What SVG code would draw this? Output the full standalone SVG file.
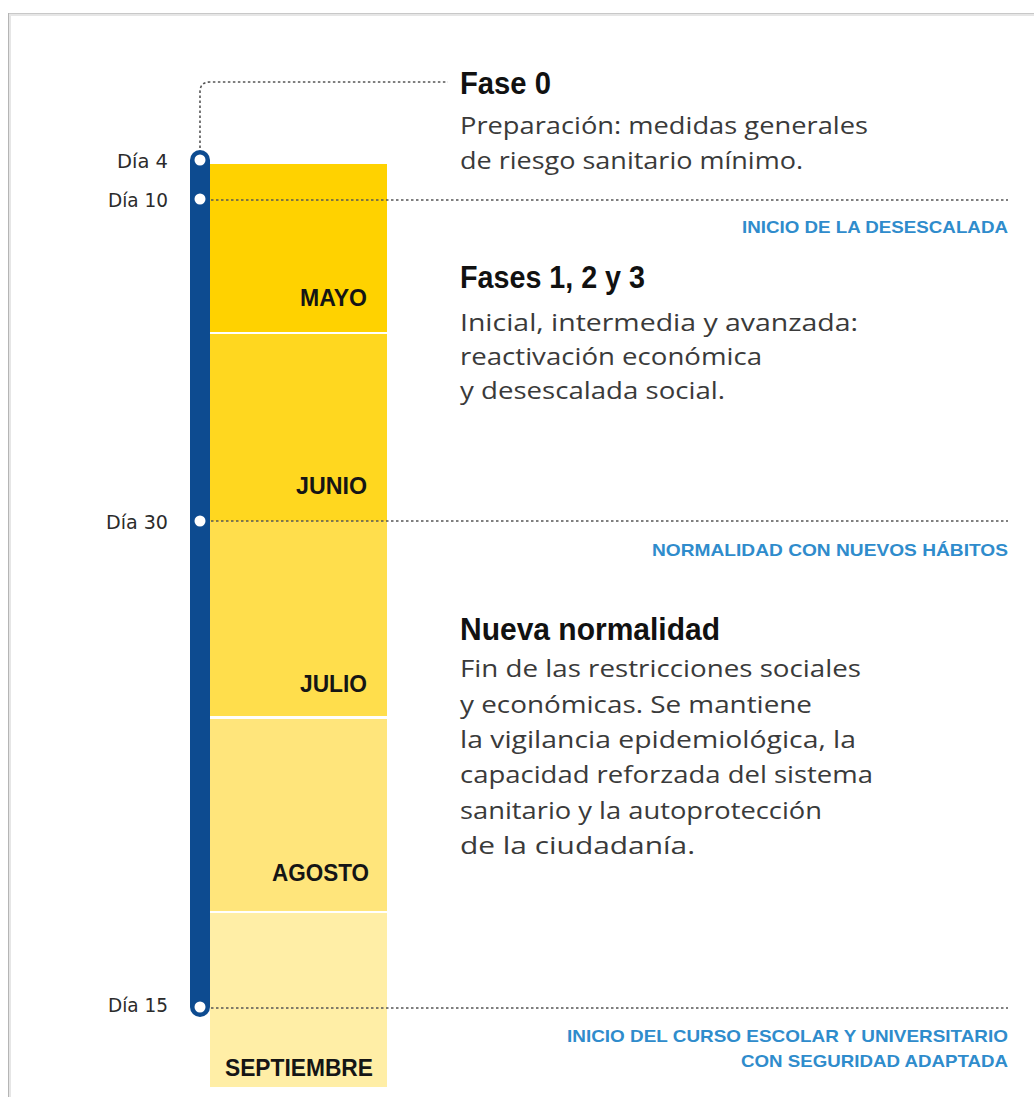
<svg xmlns="http://www.w3.org/2000/svg" width="1034" height="1097" viewBox="0 0 1034 1097">
<defs>
<style>
.day{font-family:"DejaVu Sans Condensed","DejaVu Sans",sans-serif;font-size:19px;fill:#2b2b2b;text-anchor:end}
.month{font-family:"Liberation Sans",Arial,sans-serif;font-weight:bold;font-size:24px;fill:#151515;text-anchor:end}
.head{font-family:"Liberation Sans",Arial,sans-serif;font-weight:bold;font-size:32px;fill:#111}
.body{font-family:"Open Sans","Liberation Sans",sans-serif;font-size:24px;fill:#3a3a3a}
.tag{font-family:"Liberation Sans",Arial,sans-serif;font-weight:bold;font-size:17px;fill:#2f8ccc;text-anchor:end}
.dot{fill:none;stroke:#555;stroke-width:1.6;stroke-dasharray:2.5 2.5}
.pt{fill:#fff}
</style>
</defs>
<rect width="1034" height="1097" fill="#fff"/>
<g id="frame">
<line x1="8" y1="14.5" x2="1034" y2="14.5" stroke="#e6e6e6" stroke-width="3"/>
<line x1="9.5" y1="13" x2="9.5" y2="1097" stroke="#e6e6e6" stroke-width="3"/>
<line x1="8" y1="13.5" x2="1034" y2="13.5" stroke="#c8c8c8" stroke-width="1"/>
<line x1="8.5" y1="13" x2="8.5" y2="1097" stroke="#b5b5b5" stroke-width="1"/>
</g>
<g id="mayo"><rect x="210" y="164" width="177" height="168" fill="#FFD200"/><text class="month" x="367" y="306" textLength="67" lengthAdjust="spacingAndGlyphs">MAYO</text></g>
<g id="junio"><rect x="210" y="334" width="177" height="187" fill="#FFD71F"/><text class="month" x="367" y="494" textLength="71" lengthAdjust="spacingAndGlyphs">JUNIO</text></g>
<g id="julio"><rect x="210" y="521" width="177" height="195" fill="#FFDE4C"/><text class="month" x="367" y="692" textLength="67" lengthAdjust="spacingAndGlyphs">JULIO</text></g>
<g id="agosto"><rect x="210" y="719" width="177" height="192" fill="#FFE57B"/><text class="month" x="369" y="881" textLength="97" lengthAdjust="spacingAndGlyphs">AGOSTO</text></g>
<g id="septiembre"><rect x="210" y="913" width="177" height="174" fill="#FFEEA6"/><text class="month" x="373" y="1076" textLength="148" lengthAdjust="spacingAndGlyphs">SEPTIEMBRE</text></g>
<g id="connectors">
<path class="dot" d="M200 148 V92 Q200 82 210 82 H448"/>
<line class="dot" x1="206" y1="200" x2="1008" y2="200"/>
<line class="dot" x1="206" y1="521" x2="1008" y2="521"/>
<line class="dot" x1="206" y1="1008" x2="1008" y2="1008"/>
</g>
<g id="timeline">
<rect x="190" y="150" width="20" height="867" rx="10" fill="#0D4B90"/>
<circle class="pt" cx="200" cy="160" r="5.5"/>
<circle class="pt" cx="200" cy="199" r="5.5"/>
<circle class="pt" cx="200" cy="521" r="5.5"/>
<circle class="pt" cx="200" cy="1007" r="5.5"/>
</g>
<g id="day-labels">
<text class="day" x="168" y="168" textLength="51" lengthAdjust="spacingAndGlyphs">Día 4</text>
<text class="day" x="168" y="207" textLength="60" lengthAdjust="spacingAndGlyphs">Día 10</text>
<text class="day" x="168" y="529" textLength="62" lengthAdjust="spacingAndGlyphs">Día 30</text>
<text class="day" x="168" y="1012" textLength="60" lengthAdjust="spacingAndGlyphs">Día 15</text>
</g>
<g id="fase0">
<text class="head" x="460" y="94" textLength="91" lengthAdjust="spacingAndGlyphs">Fase 0</text>
<text class="body" x="460" y="134" textLength="408" lengthAdjust="spacingAndGlyphs">Preparación: medidas generales</text>
<text class="body" x="460" y="169" textLength="343" lengthAdjust="spacingAndGlyphs">de riesgo sanitario mínimo.</text>
</g>
<g id="tag-desescalada"><text class="tag" x="1008" y="233" textLength="266" lengthAdjust="spacingAndGlyphs">INICIO DE LA DESESCALADA</text></g>
<g id="fases123">
<text class="head" x="460" y="288" textLength="185" lengthAdjust="spacingAndGlyphs">Fases 1, 2 y 3</text>
<text class="body" x="460" y="331" textLength="398" lengthAdjust="spacingAndGlyphs">Inicial, intermedia y avanzada:</text>
<text class="body" x="460" y="365" textLength="302" lengthAdjust="spacingAndGlyphs">reactivación económica</text>
<text class="body" x="460" y="399" textLength="265" lengthAdjust="spacingAndGlyphs">y desescalada social.</text>
</g>
<g id="tag-normalidad"><text class="tag" x="1008" y="556" textLength="356" lengthAdjust="spacingAndGlyphs">NORMALIDAD CON NUEVOS HÁBITOS</text></g>
<g id="nueva-normalidad">
<text class="head" x="460" y="640" textLength="260" lengthAdjust="spacingAndGlyphs">Nueva normalidad</text>
<text class="body" x="460" y="677" textLength="401" lengthAdjust="spacingAndGlyphs">Fin de las restricciones sociales</text>
<text class="body" x="460" y="713" textLength="352" lengthAdjust="spacingAndGlyphs">y económicas. Se mantiene</text>
<text class="body" x="460" y="748" textLength="396" lengthAdjust="spacingAndGlyphs">la vigilancia epidemiológica, la</text>
<text class="body" x="460" y="783" textLength="413" lengthAdjust="spacingAndGlyphs">capacidad reforzada del sistema</text>
<text class="body" x="460" y="819" textLength="362" lengthAdjust="spacingAndGlyphs">sanitario y la autoprotección</text>
<text class="body" x="460" y="854" textLength="235" lengthAdjust="spacingAndGlyphs">de la ciudadanía.</text>
</g>
<g id="tag-curso">
<text class="tag" x="1008" y="1042" textLength="441" lengthAdjust="spacingAndGlyphs">INICIO DEL CURSO ESCOLAR Y UNIVERSITARIO</text>
<text class="tag" x="1008" y="1067" textLength="267" lengthAdjust="spacingAndGlyphs">CON SEGURIDAD ADAPTADA</text>
</g>
</svg>
